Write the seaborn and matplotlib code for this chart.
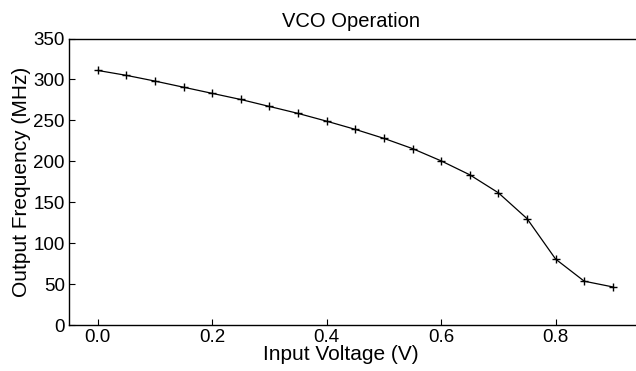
import matplotlib
matplotlib.use("Agg")
import matplotlib.pyplot as plt
import seaborn as sns
import pandas as pd

voltage = [0.0, 0.05, 0.1, 0.15, 0.2, 0.25, 0.3, 0.35, 0.4, 0.45,
           0.5, 0.55, 0.6, 0.65, 0.7, 0.75, 0.8, 0.85, 0.9]
frequency = [311, 305, 298, 290.5, 283, 275.5, 267, 258.5, 249, 239,
             228, 215.5, 200.5, 183.5, 161.5, 130, 80.5, 53.5, 46.5]
x_ticks = [0.0, 0.2, 0.4, 0.6, 0.8]
y_ticks = [0, 50, 100, 150, 200, 250, 300, 350]

sns.set_style("white")
plt.rcParams['font.family'] = ['Liberation Sans', 'DejaVu Sans']
plt.rcParams['text.color'] = 'black'
plt.rcParams['axes.labelcolor'] = 'black'

df = pd.DataFrame({"v": voltage, "f": frequency})

fig = plt.figure(figsize=(6.36, 3.71), dpi=100)
ax = fig.add_axes([69/636, 1-325/371, 572.5/636, (325-38.5)/371])
sns.lineplot(data=df, x="v", y="f", ax=ax, color="black", linewidth=0.9,
             marker="+", markersize=5.5, markeredgewidth=1.0, markeredgecolor="black")
ax.set_xlim(-0.05, 0.95)
ax.set_ylim(0, 350)
ax.set_xticks(x_ticks)
ax.set_xticklabels([f"{t:.1f}" for t in x_ticks])
ax.set_yticks(y_ticks)
ax.tick_params(direction="in", length=4, width=0.8, labelsize=13.5, colors="black",
               top=False, right=False, bottom=True, left=True, pad=3)
for s in ax.spines.values():
    s.set_color("black")
    s.set_linewidth(1.0)
ax.set_xlabel("Input Voltage (V)", fontsize=15, labelpad=0, color="black")
ax.xaxis.set_label_coords(0.475, -0.07)
ax.set_ylabel("Output Frequency (MHz)", fontsize=15, labelpad=2, color="black")
ax.set_title("VCO Operation", fontsize=14.5, pad=8, x=0.492, color="black")
fig.savefig("out.png", dpi=100)
